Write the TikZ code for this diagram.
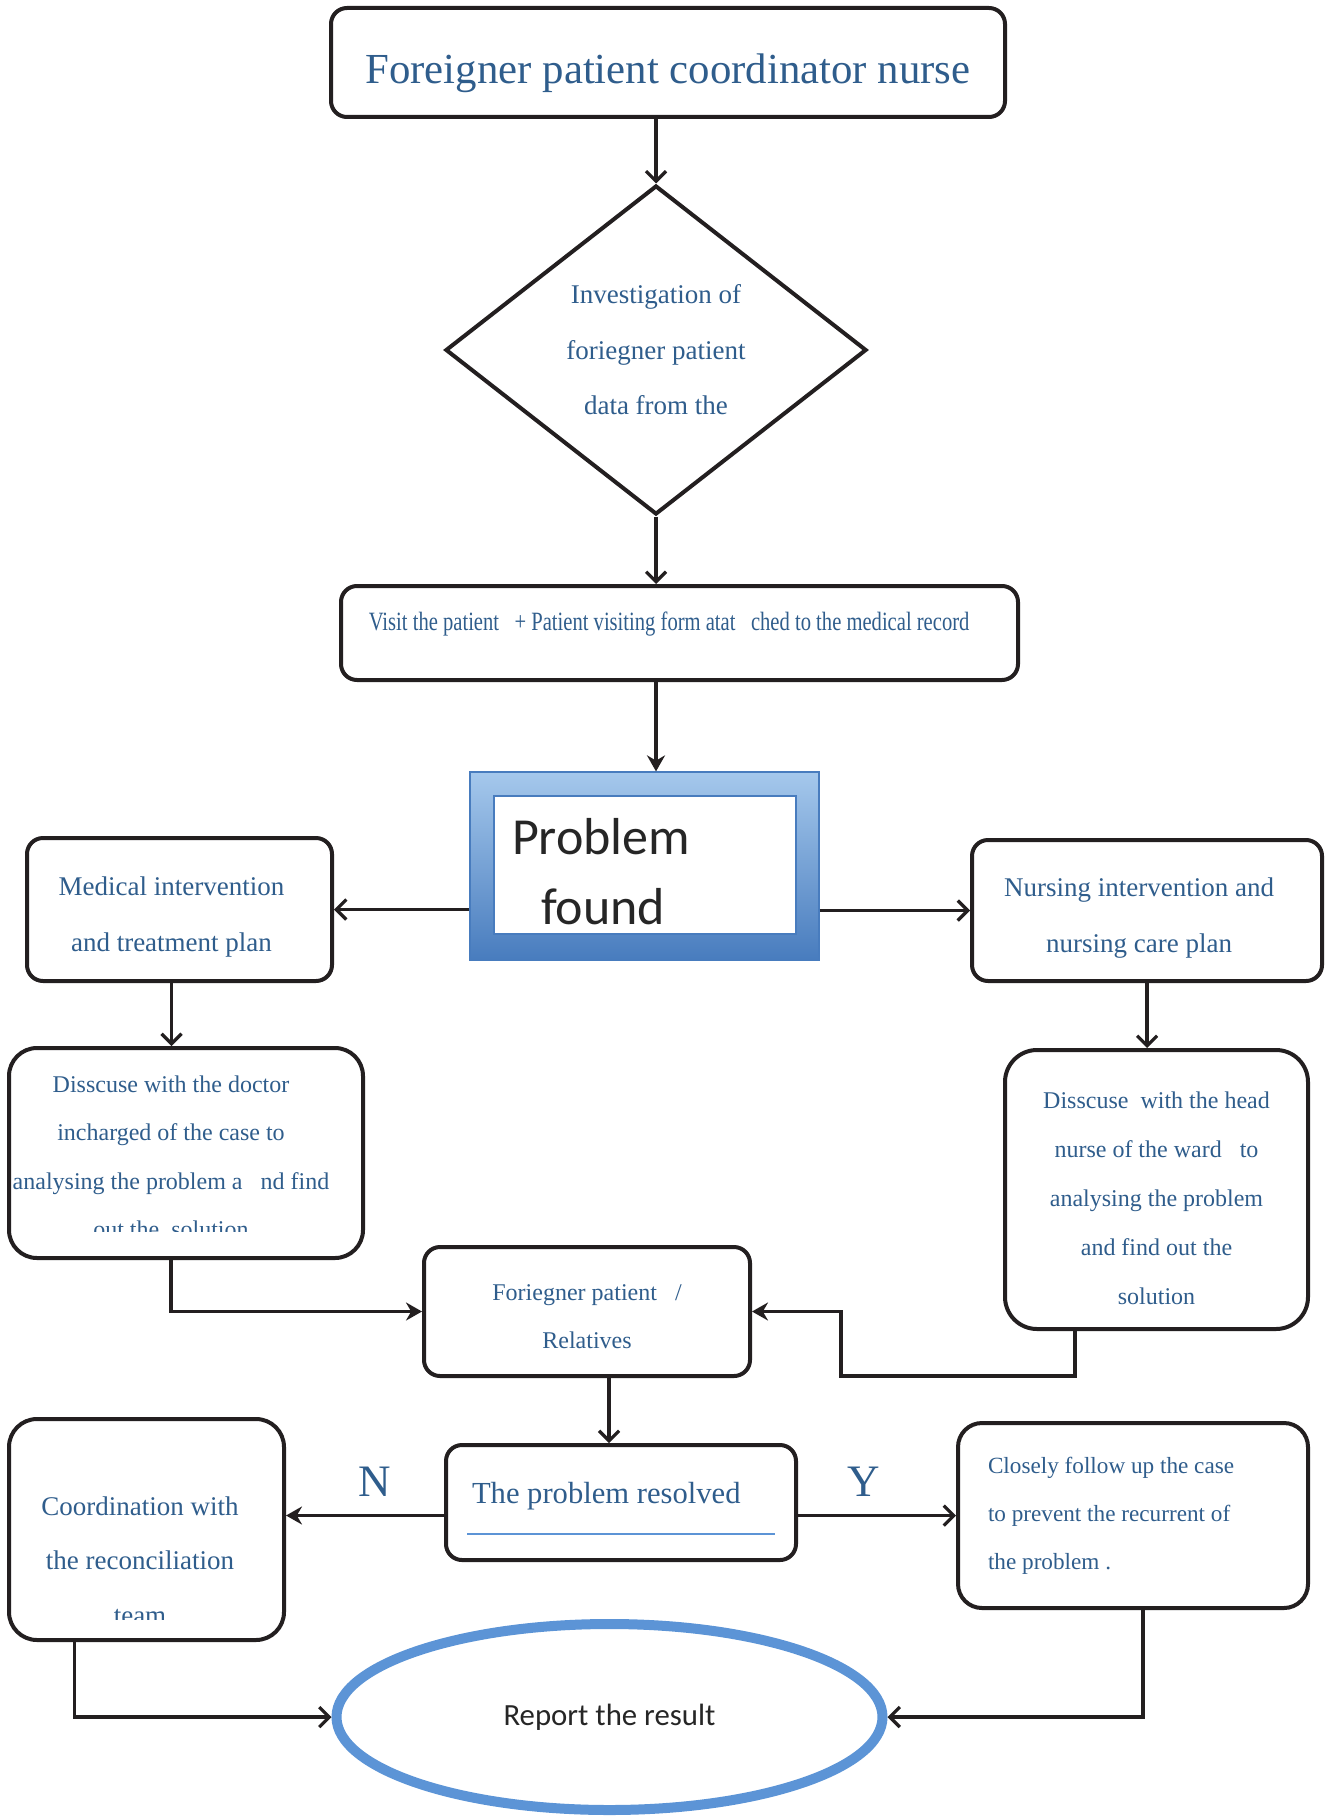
\documentclass[tikz,border=0pt]{standalone}
\usepackage{fontspec}
\setmainfont{Liberation Serif}
\newfontfamily\calibfont{Carlito}
\newfontfamily\narrowfont[FakeStretch=0.78]{Liberation Serif}
\usepackage{tikz}
\usetikzlibrary{shapes.geometric,arrows.meta,positioning,calc}
\definecolor{txtblue}{RGB}{47,93,140}
\definecolor{edge}{RGB}{35,31,32}
\definecolor{framelight}{RGB}{165,200,236}
\definecolor{framedark}{RGB}{72,124,190}
\definecolor{ellblue}{RGB}{92,148,214}
\definecolor{darktext}{RGB}{38,38,38}
\newcommand{\setfs}[2]{\fontsize{#1}{#2}\selectfont}
\newcommand{\lift}[1]{\rule{0pt}{#1}}
\tikzset{
  box/.style={rectangle, rounded corners=8pt, draw=edge, line width=2pt, fill=white, align=center, text=txtblue, inner sep=0pt, font=\setfs{13.5}{28}},
  boxtext/.style={align=center, text=txtblue, inner sep=0pt},
  decision/.style={diamond, draw=edge, line width=2pt, fill=white, align=center, text=txtblue, inner sep=0pt, font=\setfs{13.5}{27.75}},
  probframe/.style={rectangle, top color=framelight, bottom color=framedark, draw=framedark, line width=0.6pt},
  probinner/.style={rectangle, fill=white, draw=framedark, line width=0.8pt, align=flush left, text=darktext, font=\calibfont\setfs{26}{35}, inner xsep=9pt},
  reportell/.style={ellipse, draw=ellblue, line width=5pt, fill=white, text=darktext, inner sep=0pt, font=\calibfont\setfs{15.4}{18}},
  yesno/.style={text=txtblue, inner sep=0pt, font=\setfs{22.5}{26}},
  uline/.style={draw=ellblue, line width=1.2pt},
  pfeil/.style={-{Straight Barb[length=5pt,width=10pt]}, draw=edge, line width=1.6pt},
  pfeilvoll/.style={-{Stealth[length=8pt,width=9pt]}, draw=edge, line width=1.6pt}
}

\begin{document}
\begin{tikzpicture}[x=0.5pt, y=-0.5pt]
\useasboundingbox (0,0) rectangle (1324,1819);

\node[box, minimum width=337pt, minimum height=54.5pt, font=\setfs{21.4}{26}] (coordnurse) at (668,62.5) {\lift{26pt}Foreigner patient coordinator nurse};
\node[decision, minimum width=210.5pt, minimum height=164.5pt] (invest) at (656,350) {Investigation of\\foriegner patient\\data from the};
\node[box, minimum width=338.5pt, minimum height=47pt, font=\narrowfont\setfs{13.2}{16}, text depth=11.5pt] (visit) at (679.5,633) {Visit the patient\ \ \ + Patient visiting form atat\ \ \ ched to the medical record\hspace*{10.4pt}};

\node[probframe, minimum width=174.5pt, minimum height=94pt] (found) at (644.5,866) {};
\node[probinner, minimum width=151pt, minimum height=69pt, text width=133pt] (foundtxt) at (645,865) {\lift{24.5pt}Problem\\\hspace*{14.5pt}found};

\node[box, minimum width=152.5pt, minimum height=71.5pt] (medint) at (179.5,909.5) {\lift{17.2pt}Medical intervention\hspace*{8pt}\\and treatment plan\hspace*{8pt}};
\node[box, minimum width=175pt, minimum height=70.5pt] (nursint) at (1147,910.5) {\lift{17.2pt}Nursing intervention and\hspace*{8pt}\\nursing care plan\hspace*{8pt}};

\node[box, rounded corners=14pt, minimum width=177pt, minimum height=105pt] (docdisc) at (186,1153) {};
\begin{scope}
  \clip (docdisc.north west) rectangle ($(docdisc.south east)+(0,-29)$);
  \node[boxtext, font=\setfs{12}{24.25}] (docdisctxt) at (171,1157) {Disscuse with the doctor\\incharged of the case to\\analysing the problem a\ \ \ nd find\\out the\ \ solution};
\end{scope}
\node[box, rounded corners=16pt, minimum width=151.5pt, minimum height=139.5pt, font=\setfs{12}{24.5}] (headdisc) at (1156.5,1189.5) {\lift{17.2pt}Disscuse\ \ with the head\\nurse of the ward\ \ \ to\\analysing the problem\\and find out the\\solution};

\node[box, minimum width=163pt, minimum height=64.5pt, font=\setfs{12}{24}] (relatives) at (587,1311.5) {\lift{12.9pt}Foriegner patient\ \ \ /\\Relatives};

\node[box, minimum width=175pt, minimum height=57.5pt, text width=149pt, inner xsep=13pt, align=flush left, text depth=9.8pt, font=\setfs{15.3}{18}] (resolved) at (621,1502.5) {The problem resolved};
\draw[uline] ($(resolved.west)+(23,31.5)$) -- ($(resolved.east)+(-23,31.5)$);
\node[yesno] (nlab) at (375,1482) {N};
\node[yesno] (ylab) at (864,1482) {Y};

\node[box, rounded corners=14pt, minimum width=137.5pt, minimum height=110.5pt] (reconc) at (146.5,1529.5) {};
\begin{scope}
  \clip (reconc.north west) rectangle ($(reconc.south east)+(0,-23)$);
  \node[boxtext, font=\setfs{13.5}{27.25}] (reconctxt) at (140,1560.5) {Coordination with\\the reconciliation\\team};
\end{scope}
\node[box, rounded corners=12pt, minimum width=175pt, minimum height=92.5pt, text width=145pt, inner xsep=15pt, align=flush left, font=\setfs{11.6}{24}] (followup) at (1133,1515.5) {Closely follow up the case\\to prevent the recurrent of\\the problem .};

\node[reportell, minimum width=273pt, minimum height=93pt] (report) at (609.5,1717) {Report the result};

\coordinate (b1) at (1075,1376);
\coordinate (b2) at (841,1376);

\draw[pfeil] (coordnurse.south -| invest.north) -- (invest.north);
\draw[pfeil] (invest.south) -- (invest.south |- visit.north);
\draw[pfeilvoll] (visit.south -| invest.south) -- (invest.south |- found.north);
\draw[pfeil] (found.west |- medint.east) -- (medint.east);
\draw[pfeil] (found.east |- nursint.west) -- (nursint.west);
\draw[pfeil] ([xshift=-4pt]medint.south) -- ([xshift=-4pt]medint.south |- docdisc.north);
\draw[pfeil] (nursint.south) -- (nursint.south |- headdisc.north);
\draw[pfeilvoll] ([xshift=-7.5pt]docdisc.south) |- (relatives.west);
\draw[pfeilvoll] (headdisc.south -| b1) -- (b1) -- (b2) |- (relatives.east);
\draw[pfeil] ([xshift=11pt]relatives.south) -- ([xshift=11pt]relatives.south |- resolved.north);
\draw[pfeilvoll] (resolved.west |- followup.west) -- (reconc.east |- followup.west);
\draw[pfeil] (resolved.east |- followup.west) -- (followup.west);
\draw[pfeil] ([xshift=-36pt]reconc.south) |- (report.west);
\draw[pfeil] ([xshift=5pt]followup.south) |- (report.east);

\end{tikzpicture}
\end{document}
